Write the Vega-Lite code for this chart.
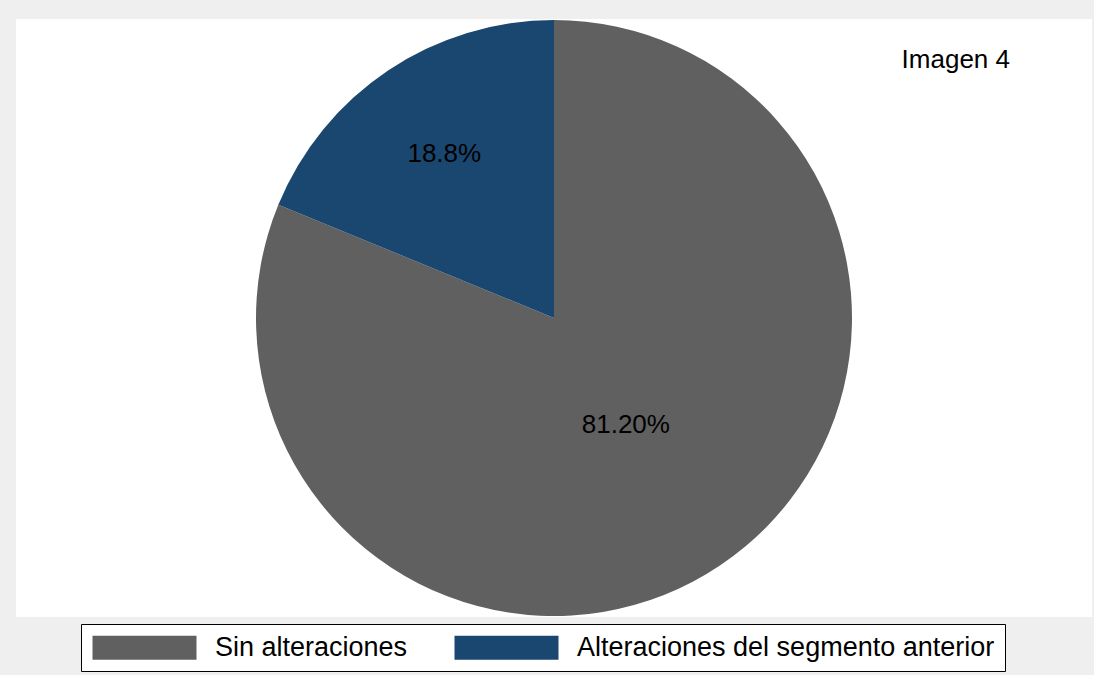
{
  "$schema": "https://vega.github.io/schema/vega-lite/v6.json",
  "width": 1076,
  "height": 598,
  "autosize": {"type": "none"},
  "padding": {"left": 16, "top": 19, "right": 2, "bottom": 58},
  "background": "#efefef",
  "view": {"fill": "white", "stroke": null},
  "title": {
    "text": "Imagen 4",
    "orient": "top",
    "anchor": "end",
    "frame": "group",
    "offset": 0,
    "dy": 75,
    "dx": -82,
    "baseline": "alphabetic",
    "fontSize": 26,
    "font": "Liberation Sans",
    "fontWeight": "normal",
    "color": "black"
  },
  "data": {
    "values": [
      {"grupo": "Sin alteraciones", "valor": 81.2, "etiqueta": "81.20%", "orden": 1},
      {"grupo": "Alteraciones del segmento anterior", "valor": 18.8, "etiqueta": "18.8%", "orden": 2}
    ]
  },
  "encoding": {
    "theta": {"field": "valor", "type": "quantitative", "stack": true},
    "order": {"field": "orden", "type": "quantitative"}
  },
  "layer": [
    {
      "mark": {"type": "arc", "outerRadius": 298},
      "encoding": {
        "color": {
          "field": "grupo",
          "type": "nominal",
          "scale": {
            "domain": ["Sin alteraciones", "Alteraciones del segmento anterior"],
            "range": ["#606060", "#1a476f"]
          },
          "legend": {
            "title": null,
            "orient": "none",
            "direction": "horizontal",
            "legendX": 65,
            "legendY": 605,
            "strokeColor": "black",
            "fillColor": "white",
            "padding": 10,
            "symbolType": "M-1,-1H7.667V1H-1Z",
            "symbolSize": 576,
            "symbolStrokeWidth": 0,
            "symbolOpacity": 1,
            "labelFont": "Liberation Sans",
            "labelFontSize": 27,
            "labelColor": "black",
            "labelOffset": 97,
            "labelLimit": 600,
            "columnPadding": 45
          }
        }
      }
    },
    {
      "mark": {"type": "text", "fontSize": 26, "font": "Liberation Sans", "color": "black"},
      "encoding": {
        "text": {"field": "etiqueta", "type": "nominal"},
        "radius": {
          "field": "valor",
          "type": "quantitative",
          "scale": {"type": "linear", "domain": [18.8, 81.2], "range": [197, 129], "zero": false}
        }
      }
    }
  ]
}
